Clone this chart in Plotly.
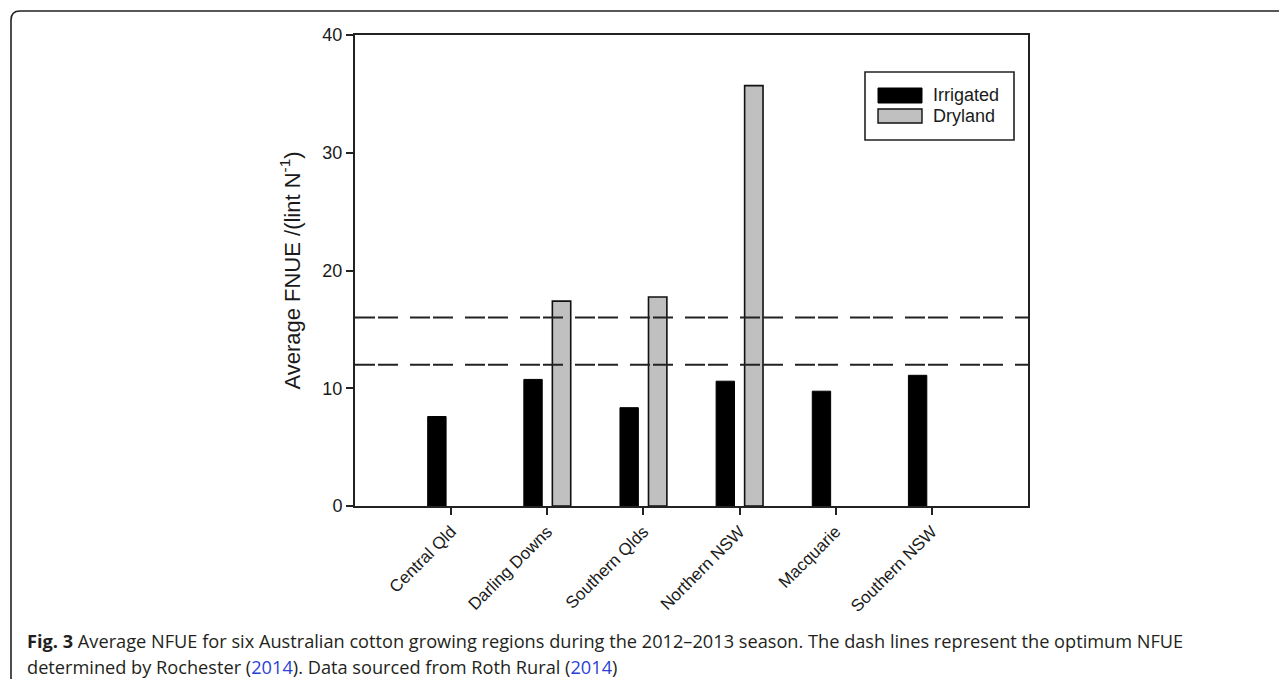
import plotly.graph_objects as go

# ---- data ----
regions = ["Central Qld", "Darling Downs", "Southern Qlds", "Northern NSW", "Macquarie", "Southern NSW"]
irrigated = [7.6, 10.75, 8.35, 10.6, 9.75, 11.1]
dryland = [None, 17.4, 17.75, 35.7, None, None]
optimum_bounds = [12, 16]
y_ticks = [0, 10, 20, 30, 40]
series_names = ["Irrigated", "Dryland"]

OFF = 8  # page body margin
W, H = 1287 - 2 * OFF, 687 - 2 * OFF
L, R, T, B = 355 - OFF, 1028 - OFF, 35 - OFF, 506 - OFF
PW, PH = R - L, B - T


def px(x):
    return (x - OFF - L) / PW


def py(y):
    return (B - (y - OFF)) / PH


fig = go.Figure()
fig.add_trace(go.Bar(x=list(range(len(regions))), y=irrigated, name=series_names[0],
                     marker=dict(color="#000000", line=dict(color="#000000", width=1)),
                     showlegend=False))
fig.add_trace(go.Bar(x=list(range(len(regions))), y=dryland, name=series_names[1],
                     marker=dict(color="#c0c0c0", line=dict(color="#111111", width=1.6)),
                     showlegend=False))

shapes = []
for v in optimum_bounds:
    shapes.append(dict(type="line", xref="paper", yref="y", x0=0, x1=1, y0=v, y1=v,
                       line=dict(color="#222222", width=2, dash="20px,3px,20px,12px"),
                       layer="above"))

# legend box (manual, to reproduce the wide swatches)
shapes.append(dict(type="rect", xref="paper", yref="paper", x0=px(865), x1=px(1014),
                   y0=py(140), y1=py(72), line=dict(color="#222222", width=1.6),
                   fillcolor="white", layer="above"))
shapes.append(dict(type="rect", xref="paper", yref="paper", x0=px(878), x1=px(922),
                   y0=py(103), y1=py(88), line=dict(color="#000000", width=1),
                   fillcolor="#000000", layer="above"))
shapes.append(dict(type="rect", xref="paper", yref="paper", x0=px(878), x1=px(922),
                   y0=py(123), y1=py(109), line=dict(color="#111111", width=1.4),
                   fillcolor="#c0c0c0", layer="above"))

# outer rounded frame
r = 9
bx, by, bb = 11, 11, 686
path = (f"M {px(1320)} {py(by)} L {px(bx + r)} {py(by)} "
        f"Q {px(bx)} {py(by)} {px(bx)} {py(by + r)} "
        f"L {px(bx)} {py(bb - r)} Q {px(bx)} {py(bb)} {px(bx + r)} {py(bb)} "
        f"L {px(1320)} {py(bb)}")
shapes.append(dict(type="path", xref="paper", yref="paper", path=path,
                   line=dict(color="#222222", width=1.6)))

annotations = []
for i, name in enumerate(series_names):
    annotations.append(dict(xref="paper", yref="paper", x=px(931), y=py(95.5 + 20.5 * i),
                            text=name, showarrow=False, xanchor="left", yanchor="middle",
                            font=dict(family="Liberation Sans, Arial", size=18, color="#1a1a1a")))

blue = "#2b3fd6"
cap1 = "<b>Fig. 3</b> Average NFUE for six Australian cotton growing regions during the 2012–2013 season. The dash lines represent the optimum NFUE"
cap2 = (f"determined by Rochester (<span style='color:{blue}'>2014</span>). Data sourced from Roth Rural "
        f"(<span style='color:{blue}'>2014</span>)")
annotations.append(dict(xref="paper", yref="paper", x=px(25), y=py(641), text=cap1, showarrow=False,
                        xanchor="left", yanchor="middle",
                        font=dict(family="Open Sans", size=18.2, color="#231f20")))
annotations.append(dict(xref="paper", yref="paper", x=px(25), y=py(667), text=cap2, showarrow=False,
                        xanchor="left", yanchor="middle",
                        font=dict(family="Open Sans", size=18.2, color="#231f20")))

fig.update_layout(
    width=W, height=H,
    margin=dict(l=L, r=W - R, t=T, b=H - B, pad=0),
    paper_bgcolor="white", plot_bgcolor="white",
    barmode="group", bargap=0.407, bargroupgap=0.355,
    shapes=shapes, annotations=annotations,
    showlegend=False,
    font=dict(family="Liberation Sans, Arial", color="#1a1a1a"),
)
fig.update_xaxes(
    range=[-1, len(regions)], tickmode="array", tickvals=list(range(len(regions))), ticktext=regions,
    tickangle=-45, tickfont=dict(size=17, family="Liberation Sans, Arial", color="#1a1a1a"),
    ticks="outside", ticklen=7, tickwidth=1.6, tickcolor="#222222",
    showline=True, linewidth=2, linecolor="#222222", mirror=True,
    showgrid=False, zeroline=False,
)
fig.update_yaxes(
    range=[0, 40], tickmode="array", tickvals=y_ticks,
    tickfont=dict(size=18, family="Liberation Sans, Arial", color="#1a1a1a"),
    ticks="outside", ticklen=7, tickwidth=1.6, tickcolor="#222222",
    showline=True, linewidth=2, linecolor="#222222", mirror=True,
    showgrid=False, zeroline=False,
    title=dict(text="Average FNUE /(lint N<sup>-1</sup>)", standoff=16,
               font=dict(size=22, family="Liberation Sans, Arial", color="#1a1a1a")),
)

fig.write_html("out.html")
